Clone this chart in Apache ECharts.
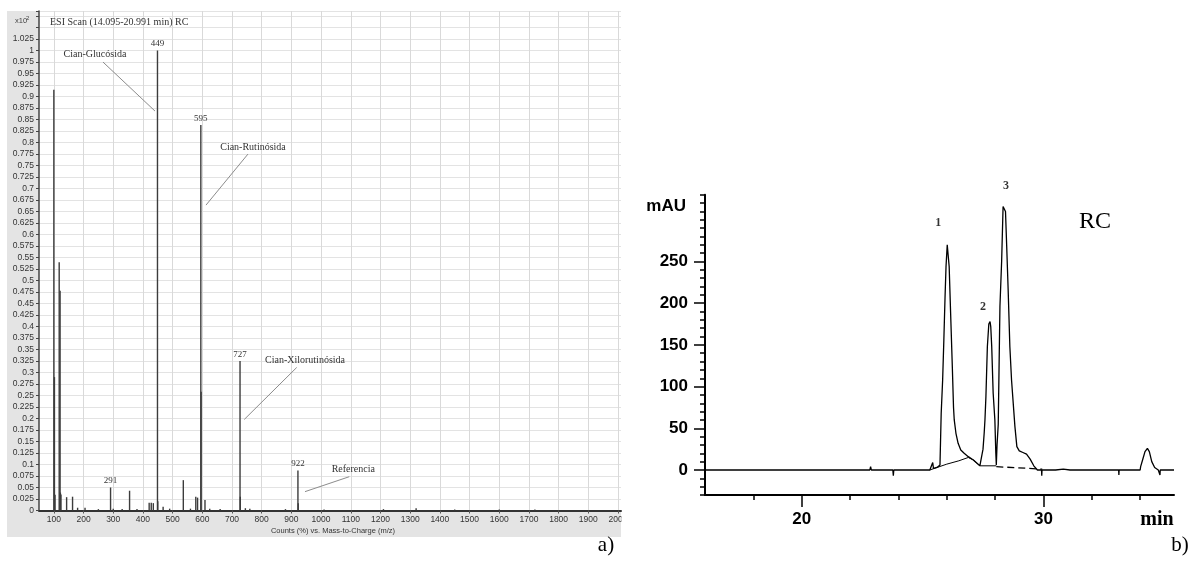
<!DOCTYPE html>
<html><head><meta charset="utf-8">
<script src="https://cdn.jsdelivr.net/npm/echarts@6/dist/echarts.min.js"></script>
<style>html,body{margin:0;padding:0;background:#fff}#c{width:1199px;height:574px}</style>
</head><body><div id="c"></div>
<script>
// ---------- Panel a) ESI mass spectrum ----------
const specMz = [100, 102, 104, 118, 121, 122, 124, 143, 163, 180, 205, 250, 291, 300, 330, 355, 380, 421, 428, 435, 449, 450, 468, 490, 536, 560, 578, 584, 595, 596, 609, 625, 660, 727, 728, 745, 760, 880, 922, 923, 1010, 1210, 1320, 1450, 1600, 1720];
const specCounts = [0.915, 0.29, 0.034, 0.54, 0.478, 0.039, 0.035, 0.029, 0.03, 0.006, 0.006, 0.003, 0.05, 0.004, 0.003, 0.043, 0.003, 0.017, 0.017, 0.016, 1.0, 0.02, 0.008, 0.004, 0.066, 0.004, 0.03, 0.028, 0.838, 0.258, 0.023, 0.004, 0.003, 0.325, 0.03, 0.005, 0.004, 0.003, 0.087, 0.016, 0.002, 0.003, 0.005, 0.002, 0.002, 0.002];
const specLabeled = [291, 449, 595, 727, 922];
const annotationNames = ['Cian-Glucósida', 'Cian-Rutinósida', 'Cian-Xilorutinósida', 'Referencia'];

// ---------- Panel b) chromatogram ----------
const chromTime = [16, 22.82, 22.85, 22.88, 23.77, 23.79, 23.81, 25.3, 25.38, 25.42, 25.45, 25.6, 25.72, 25.77, 25.83, 25.88, 25.93, 25.97, 26.02, 26.1, 26.16, 26.23, 26.28, 26.31, 26.38, 26.47, 26.58, 26.72, 26.89, 27.1, 27.37, 27.44, 27.5, 27.55, 27.58, 27.62, 27.68, 27.74, 27.79, 27.82, 27.86, 27.92, 27.99, 28.03, 28.05, 28.08, 28.13, 28.2, 28.27, 28.33, 28.37, 28.43, 28.48, 28.54, 28.61, 28.68, 28.82, 28.9, 29.0, 29.15, 29.3, 29.45, 29.6, 29.75, 29.92, 29.93, 29.94, 30.5, 30.82, 31.1, 31.8, 32.5, 33.11, 33.12, 33.13, 34.0, 34.02, 34.1, 34.2, 34.3, 34.38, 34.48, 34.6, 34.75, 34.81, 34.82, 34.83, 35.4];
const chromMAU  = [0, 0, 4, 0, 0, -7, 0, 0, 2, 9, 2, 3, 6, 68, 108, 156, 208, 244, 270, 244, 188, 124, 75, 60, 44, 32, 24, 20, 16, 12, 5, 6, 25, 45, 60, 88, 148, 175, 178, 172, 148, 92, 60, 20, 6, 30, 55, 196, 250, 316, 318, 310, 268, 216, 148, 108, 52, 28, 23, 21, 19, 13, 5, 0, 0, -7, 0, 0, 1, 0, 0, 0, 0, -6, 0, 0, 4, 12, 22, 26, 22, 10, 3, 0, 0, -6, 0, 0];
const baseTime = [25.3, 26.0, 26.5, 26.89, 27.1, 27.37, 28.05];
const baseMAU  = [0, 7, 11, 15, 12, 5, 5];
const dashTime = [28.05, 29.95];
const dashMAU  = [4, 1];
const peakNames = ['1', '2', '3'];
const peakTime  = [26.02, 27.79, 28.37];
const peakMAU   = [270, 178, 318];

// ---------- layout (not data) ----------
const SERIF = '"Liberation Serif","Times New Roman",serif';
const SANS = '"Liberation Sans",Arial,sans-serif';
const annotationLayout = [
  {text: [238.6, 0.992], from: [265.5, 0.975], to: [440.6, 0.8685]},
  {text: [770.7, 0.790], from: [753.8, 0.775], to: [612.4, 0.664]},
  {text: [945.8, 0.3257], from: [917.9, 0.311], to: [741.4, 0.198]},
  {text: [1108.5, 0.0896], from: [1095, 0.0735], to: [945.8, 0.041]}
];
const peakOffsets = [[-9, -22], [-7, -15], [2, -19]];

function txt(x, y, text, font, align, fill) {
  return {type: 'text', x: x, y: y, z: 50,
    style: {text: text, font: font, fill: fill || '#000', align: align, textAlign: align,
            verticalAlign: 'middle', textVerticalAlign: 'middle'}};
}

const chart = echarts.init(document.getElementById('c'), null, {renderer: 'canvas'});
const hidden = (gi, min, max) => ({gridIndex: gi, type: 'value', min: min, max: max, show: false});

const option = {
  animation: false,
  backgroundColor: '#fff',
  textStyle: {fontFamily: SANS},
  graphic: [
    {type: 'rect', z: -10, shape: {x: 7, y: 11, width: 614, height: 526}, style: {fill: '#e4e4e4'}},
    txt(50, 22, 'ESI Scan (14.095-20.991 min) RC', '10px ' + SERIF, 'left', '#333'),
    txt(15, 21, 'x10', '7.5px ' + SANS, 'left', '#444'),
    txt(26, 18, '2', '6px ' + SANS, 'left', '#444'),
    txt(333, 531, 'Counts (%) vs. Mass-to-Charge (m/z)', '7.5px ' + SANS, 'center', '#333'),
    {type: 'rect', z: 100, shape: {x: 621.5, y: 512, width: 16, height: 16}, style: {fill: '#fff'}},
    txt(606, 545, 'a)', '21px ' + SERIF, 'center'),
    txt(1180, 545, 'b)', '21px ' + SERIF, 'center'),
    txt(686, 206, 'mAU', 'bold 17px ' + SANS, 'right'),
    txt(1157, 520, 'min', 'bold 20px ' + SERIF, 'center'),
    txt(1095, 222, 'RC', '24px ' + SERIF, 'center')
  ],
  grid: [
    {left: 39, right: 578, top: 11, bottom: 63.5, show: true, backgroundColor: '#fff', borderWidth: 0, outerBoundsMode: 'none'},
    {left: 53.85, right: 581, top: 11, bottom: 63.5, outerBoundsMode: 'none'},
    {left: 705, right: 25, top: 194.8, bottom: 79, outerBoundsMode: 'none'},
    {left: 753.35, right: 58.85, top: 194.8, bottom: 79, outerBoundsMode: 'none'},
    {left: 801.7, right: 155.55, top: 194.8, bottom: 79, outerBoundsMode: 'none'},
    {left: 705, right: 25, top: 261.5, bottom: 104.02, outerBoundsMode: 'none'}
  ],
  xAxis: [
    {gridIndex: 0, type: 'value', min: 50, max: 2010,
     axisLine: {show: true, onZero: false, lineStyle: {color: '#333', width: 2}},
     axisTick: {show: false}, axisLabel: {show: false}, splitLine: {show: false}},
    {gridIndex: 1, type: 'value', min: 100, max: 2000, interval: 100,
     axisLine: {show: false, onZero: false}, axisTick: {show: true, length: 3, lineStyle: {color: '#555'}},
     axisLabel: {show: true, fontSize: 8.5, color: '#333', margin: 5, fontFamily: SANS, formatter: v => String(v)},
     splitLine: {show: true, lineStyle: {color: '#d9d9d9', width: 1}}},
    {gridIndex: 2, type: 'value', min: 16, max: 35.4,
     axisLine: {show: true, onZero: false, lineStyle: {color: '#000', width: 2}},
     axisTick: {show: false}, axisLabel: {show: false}, splitLine: {show: false}},
    {gridIndex: 3, type: 'value', min: 18, max: 34, interval: 2,
     axisLine: {show: false, onZero: false}, axisTick: {show: true, length: 5, lineStyle: {color: '#000', width: 1.5}},
     axisLabel: {show: false}, splitLine: {show: false}},
    {gridIndex: 4, type: 'value', min: 20, max: 30, interval: 10,
     axisLine: {show: false, onZero: false}, axisTick: {show: true, length: 12, lineStyle: {color: '#000', width: 1.5}},
     axisLabel: {show: true, fontSize: 17, fontWeight: 'bold', color: '#000', margin: 16, fontFamily: SANS, formatter: v => String(v)},
     splitLine: {show: false}},
    hidden(5, 0, 1)
  ],
  yAxis: [
    {gridIndex: 0, type: 'value', min: 0, max: 1.086, interval: 0.025,
     axisLine: {show: true, onZero: false, lineStyle: {color: '#444', width: 1.5}},
     axisTick: {show: true, length: 3, lineStyle: {color: '#444'}},
     axisLabel: {show: true, fontSize: 8.5, color: '#333', margin: 5, fontFamily: SANS,
       formatter: v => { const r = Math.round(v * 1000); return (r % 25 !== 0 || v > 1.03) ? '' : String(r / 1000); }},
     splitLine: {show: true, lineStyle: {color: '#e3e3e3', width: 1}}},
    hidden(1, 0, 1),
    {gridIndex: 2, type: 'value', min: -30, max: 330, interval: 10,
     axisLine: {show: true, onZero: false, lineStyle: {color: '#000', width: 2}},
     axisTick: {show: true, length: 5, lineStyle: {color: '#000', width: 1.5}},
     axisLabel: {show: false}, splitLine: {show: false}},
    hidden(3, 0, 1),
    hidden(4, 0, 1),
    {gridIndex: 5, type: 'value', min: 0, max: 250, interval: 50,
     axisLine: {show: false, onZero: false}, axisTick: {show: true, length: 11, lineStyle: {color: '#000', width: 1.5}},
     axisLabel: {show: true, fontSize: 17, fontWeight: 'bold', color: '#000', margin: 17, fontFamily: SANS, formatter: v => String(v)},
     splitLine: {show: false}}
  ],
  series: [
    {type: 'custom', name: 'spectrum', xAxisIndex: 0, yAxisIndex: 0, silent: true,
     data: specMz.map((m, i) => [m, specCounts[i]]), encode: {x: 0, y: 1},
     renderItem: (params, api) => {
       const m = api.value(0), v = api.value(1);
       const p0 = api.coord([m, 0]), p1 = api.coord([m, v]);
       const ch = [{type: 'line', shape: {x1: p0[0], y1: p0[1], x2: p1[0], y2: p1[1]},
                    style: {stroke: '#3c3c3c', lineWidth: 1.4}}];
       if (specLabeled.indexOf(m) >= 0) {
         ch.push({type: 'text', x: p1[0], y: p1[1] - 2,
           style: {text: String(m), font: '9px ' + SERIF, fill: '#333', align: 'center', textAlign: 'center',
                   verticalAlign: 'bottom', textVerticalAlign: 'bottom'}});
       }
       return {type: 'group', children: ch};
     }},
    {type: 'custom', name: 'annotations', xAxisIndex: 0, yAxisIndex: 0, silent: true, clip: false,
     data: annotationNames.map((n, i) => annotationLayout[i].text), encode: {x: 0, y: 1},
     renderItem: (params, api) => {
       const a = annotationLayout[params.dataIndex];
       const t = api.coord(a.text), f = api.coord(a.from), e = api.coord(a.to);
       return {type: 'group', children: [
         {type: 'line', shape: {x1: f[0], y1: f[1], x2: e[0], y2: e[1]}, style: {stroke: '#8c8c8c', lineWidth: 1}},
         {type: 'text', x: t[0], y: t[1], style: {text: annotationNames[params.dataIndex], font: '10px ' + SERIF,
           fill: '#333', align: 'center', textAlign: 'center', verticalAlign: 'middle', textVerticalAlign: 'middle'}}
       ]};
     }},
    {type: 'line', name: 'chromatogram', xAxisIndex: 2, yAxisIndex: 2, silent: true,
     data: chromTime.map((t, i) => [t, chromMAU[i]]), symbol: 'none',
     lineStyle: {color: '#000', width: 1.3}},
    {type: 'line', name: 'baseline', xAxisIndex: 2, yAxisIndex: 2, silent: true,
     data: baseTime.map((t, i) => [t, baseMAU[i]]), symbol: 'none',
     lineStyle: {color: '#000', width: 1}},
    {type: 'line', name: 'baseline2', xAxisIndex: 2, yAxisIndex: 2, silent: true,
     data: dashTime.map((t, i) => [t, dashMAU[i]]), symbol: 'none',
     lineStyle: {color: '#000', width: 1.3, type: [7, 4]}},
    {type: 'scatter', name: 'peaks', xAxisIndex: 2, yAxisIndex: 2, silent: true, symbolSize: 1,
     itemStyle: {color: 'rgba(0,0,0,0)'},
     label: {show: true, position: 'inside', fontFamily: SERIF, fontWeight: 'bold', fontSize: 12, color: '#000'},
     data: peakTime.map((t, i) => ({value: [t, peakMAU[i]],
       label: {show: true, position: 'inside', formatter: peakNames[i], offset: peakOffsets[i]}}))}
  ]
};
chart.setOption(option);
</script>
</body></html>
